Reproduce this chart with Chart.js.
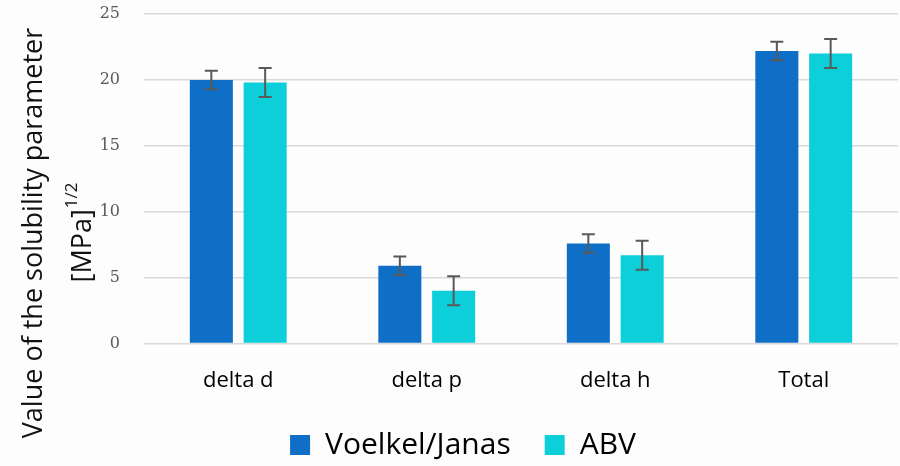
<!DOCTYPE html>
<html>
<head>
<meta charset="utf-8">
<script src="https://cdn.jsdelivr.net/npm/chart.js@4.4.1/dist/chart.umd.min.js"></script>
<style>
    html, body { margin: 0; padding: 0; background: #fdfdfd; }
    #wrap { width: 900px; height: 466px; position: relative; }
</style>
</head>
<body>
<div id="wrap"><canvas id="solChart" width="900" height="466"></canvas></div>
<script>
const categories = ['delta d', 'delta p', 'delta h', 'Total'];
const seriesNames = ['Voelkel/Janas', 'ABV'];
const voelkelValues = [20.0, 5.9, 7.6, 22.2];
const abvValues = [19.8, 4.0, 6.7, 22.0];
const voelkelErrors = [0.7, 0.7, 0.7, 0.7];
const abvErrors = [1.1, 1.1, 1.1, 1.1];
const yTicks = [0, 5, 10, 15, 20, 25];
const yTitleLine1 = 'Value of the solubility parameter';
const yTitleLine2 = '[MPa]';
const yTitleSup = '1/2';

const titleFont = '"Open Sans", Lato, sans-serif';
const legendLift = 14; // pulls the legend row up towards the axis

// error bars drawn from the bar elements and the y scale
const errorBars = {
    id: 'errorBars',
    afterDatasetsDraw(chart) {
        const ctx = chart.ctx;
        const yScale = chart.scales.y;
        ctx.save();
        ctx.strokeStyle = '#595959';
        ctx.lineWidth = 2;
        chart.data.datasets.forEach((ds, i) => {
            const meta = chart.getDatasetMeta(i);
            meta.data.forEach((bar, j) => {
                const v = ds.data[j];
                const e = ds.errors[j];
                const top = yScale.getPixelForValue(v + e);
                const bot = yScale.getPixelForValue(v - e);
                ctx.beginPath();
                ctx.moveTo(bar.x, top); ctx.lineTo(bar.x, bot);
                ctx.moveTo(bar.x - 6.5, top); ctx.lineTo(bar.x + 6.5, top);
                ctx.moveTo(bar.x - 6.5, bot); ctx.lineTo(bar.x + 6.5, bot);
                ctx.stroke();
            });
        });
        ctx.restore();
    }
};

// rotated two-line axis title with a superscript
const yTitle = {
    id: 'yTitle',
    afterLayout(chart) {
        if (chart.legend) {
            chart.legend.top -= legendLift;
            chart.legend.bottom -= legendLift;
        }
    },
    afterDraw(chart) {
        const ctx = chart.ctx;
        const cy = chart.height / 2;
        ctx.save();
        ctx.fillStyle = '#111';
        ctx.textBaseline = 'alphabetic';
        ctx.translate(42, cy);
        ctx.rotate(-Math.PI / 2);
        ctx.font = '27px ' + titleFont;
        ctx.textAlign = 'center';
        ctx.fillText(yTitleLine1, 0, 0);
        ctx.restore();

        ctx.save();
        ctx.fillStyle = '#111';
        ctx.translate(83, cy);
        ctx.rotate(-Math.PI / 2);
        ctx.font = '27px ' + titleFont;
        const w1 = ctx.measureText(yTitleLine2).width;
        ctx.font = '17px ' + titleFont;
        const w2 = ctx.measureText(yTitleSup).width;
        const start = -(w1 + w2) / 2;
        ctx.font = '27px ' + titleFont;
        ctx.textAlign = 'left';
        ctx.fillText(yTitleLine2, start, 0);
        ctx.font = '17px ' + titleFont;
        ctx.fillText(yTitleSup, start + w1 + 1, -11);
        ctx.restore();
    }
};

new Chart(document.getElementById('solChart'), {
    type: 'bar',
    data: {
        labels: categories,
        datasets: [
            { label: seriesNames[0], data: voelkelValues, errors: voelkelErrors, backgroundColor: '#0F6FC6', borderWidth: 0 },
            { label: seriesNames[1], data: abvValues, errors: abvErrors, backgroundColor: '#0DCFDA', borderWidth: 0 }
        ]
    },
    options: {
        responsive: false,
        animation: false,
        devicePixelRatio: 1,
        categoryPercentage: 0.571,
        barPercentage: 0.8,
        layout: { padding: { left: 28, right: 2, top: 14, bottom: -18 } },
        scales: {
            x: {
                grid: { display: false },
                border: { display: false },
                ticks: { color: '#000', font: { family: titleFont, size: 22 }, padding: 16, maxRotation: 0 }
            },
            y: {
                min: 0,
                max: 25,
                afterBuildTicks(scale) { scale.ticks = yTicks.map(v => ({ value: v })); },
                afterFit(scale) {
                    scale.width = 116;
                    scale.paddingTop = 0;
                    scale.paddingBottom = 0;
                },
                grid: { color: '#d9d9d9', lineWidth: 1.5, drawTicks: false },
                border: { display: false },
                ticks: { color: '#595959', font: { family: '"DejaVu Serif", serif', size: 16 }, padding: 24 }
            }
        },
        plugins: {
            legend: {
                position: 'bottom',
                labels: { color: '#000', boxWidth: 20, boxHeight: 20, padding: 34, font: { family: titleFont, size: 30 } }
            },
            tooltip: { enabled: false }
        }
    },
    plugins: [errorBars, yTitle]
});
</script>
</body>
</html>
